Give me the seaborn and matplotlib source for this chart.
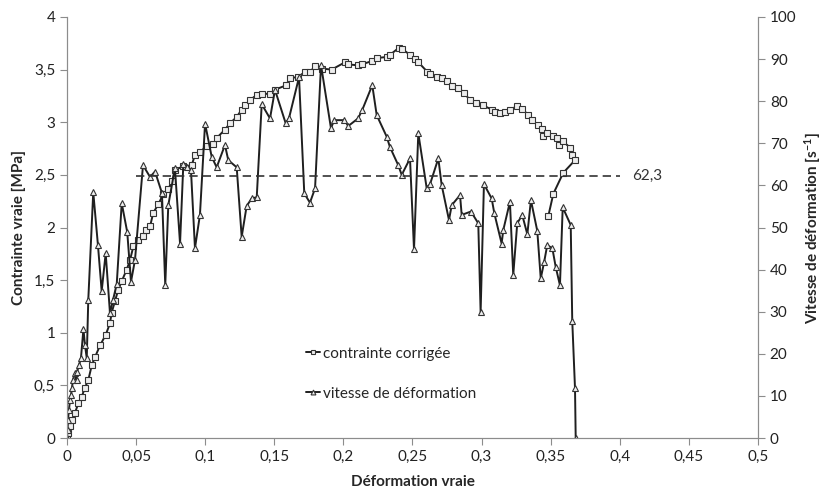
import matplotlib
matplotlib.use('Agg')
import matplotlib.pyplot as plt
import seaborn as sns
from matplotlib.ticker import FuncFormatter

# Données lues sur le graphique
# contrainte corrigée (axe gauche)
def_contrainte = [0, 0.0007, 0.0022, 0.0036, 0.0058, 0.0082, 0.0106, 0.0130, 0.0154, 0.0179,
                  0.0203, 0.0239, 0.0280, 0.0311, 0.0323, 0.0347, 0.0371, 0.0396, 0.0432, 0.0456,
                  0.0480, 0.0512, 0.0548, 0.0572, 0.0601, 0.0624, 0.0661, 0.0697, 0.0733, 0.0762,
                  0.0781, 0.0842, 0.0902, 0.0926, 0.0962, 0.1011, 0.1059, 0.1083, 0.1143, 0.1179,
                  0.1228, 0.1264, 0.1288, 0.1324, 0.1373, 0.1409, 0.1469, 0.1505, 0.1585, 0.1614,
                  0.1674, 0.1722, 0.1758, 0.1795, 0.1843, 0.1915, 0.2012, 0.2035, 0.2108, 0.2132,
                  0.2205, 0.2241, 0.2313, 0.2337, 0.2404, 0.2422, 0.2482, 0.2518, 0.2542, 0.2607,
                  0.2627, 0.2675, 0.2711, 0.2747, 0.2784, 0.2831, 0.2873, 0.2916, 0.2959, 0.3012,
                  0.3073, 0.3097, 0.3133, 0.3169, 0.3205, 0.3254, 0.3290, 0.3338, 0.3363, 0.3410,
                  0.3435, 0.3447, 0.3475, 0.3519, 0.3543, 0.3562, 0.3587, 0.3640, 0.3656, 0.3676,
                  0.3591, 0.3519, 0.3483]
contrainte = [0, 0.05, 0.11, 0.17, 0.24, 0.33, 0.39, 0.48, 0.55, 0.69,
              0.77, 0.88, 0.98, 1.09, 1.19, 1.30, 1.41, 1.49, 1.60, 1.69,
              1.82, 1.88, 1.92, 1.98, 2.01, 2.14, 2.22, 2.32, 2.37, 2.44,
              2.55, 2.58, 2.59, 2.69, 2.72, 2.77, 2.79, 2.85, 2.93, 2.99,
              3.05, 3.12, 3.16, 3.21, 3.26, 3.27, 3.27, 3.31, 3.35, 3.42,
              3.43, 3.48, 3.48, 3.53, 3.51, 3.50, 3.57, 3.55, 3.54, 3.55,
              3.58, 3.61, 3.62, 3.64, 3.71, 3.70, 3.64, 3.60, 3.57, 3.48,
              3.46, 3.43, 3.42, 3.39, 3.34, 3.33, 3.28, 3.21, 3.18, 3.16,
              3.12, 3.10, 3.09, 3.10, 3.12, 3.15, 3.13, 3.07, 3.02, 2.97,
              2.94, 2.87, 2.90, 2.87, 2.85, 2.78, 2.82, 2.76, 2.69, 2.64,
              2.52, 2.32, 2.11]

# vitesse de déformation (axe droit)
def_vitesse = [0, 0.0004, 0.0007, 0.0014, 0.0022, 0.0029, 0.0036, 0.0043, 0.0058, 0.0069,
               0.0072, 0.0087, 0.0101, 0.0119, 0.0130, 0.0143, 0.0154, 0.0190, 0.0224, 0.0251,
               0.0280, 0.0311, 0.0333, 0.0360, 0.0396, 0.0436, 0.0463, 0.0492, 0.0550, 0.0601,
               0.0637, 0.0687, 0.0711, 0.0733, 0.0781, 0.0818, 0.0842, 0.0866, 0.0897, 0.0926,
               0.0962, 0.0999, 0.1047, 0.1083, 0.1143, 0.1167, 0.1228, 0.1264, 0.1300, 0.1336,
               0.1373, 0.1409, 0.1469, 0.1505, 0.1582, 0.1606, 0.1679, 0.1717, 0.1758, 0.1795,
               0.1838, 0.1910, 0.1934, 0.2007, 0.2035, 0.2106, 0.2135, 0.2209, 0.2241, 0.2313,
               0.2337, 0.2397, 0.2422, 0.2482, 0.2511, 0.2542, 0.2603, 0.2627, 0.2687, 0.2711,
               0.2764, 0.2784, 0.2844, 0.2856, 0.2923, 0.2976, 0.2993, 0.3017, 0.3073, 0.3092,
               0.3145, 0.3157, 0.3205, 0.3229, 0.3258, 0.3294, 0.3331, 0.3357, 0.3403, 0.3428,
               0.3452, 0.3475, 0.3512, 0.3536, 0.3567, 0.3587, 0.3645, 0.3656, 0.3676, 0.3681]
vitesse = [0, 1.9, 4.3, 6.7, 9.0, 10.2, 11.9, 13.8, 15.4, 13.8,
           15.7, 17.3, 19.0, 25.9, 22.1, 19.0, 32.8, 58.4, 45.8, 34.9,
           43.9, 29.7, 32.8, 36.6, 55.8, 48.9, 37.1, 42.3, 64.8, 62.0,
           63.3, 58.2, 36.3, 55.3, 64.1, 46.2, 65.2, 64.4, 63.7, 45.1,
           53.0, 74.7, 66.8, 64.3, 69.6, 66.0, 64.3, 47.8, 55.1, 56.9,
           57.2, 79.3, 75.9, 82.7, 74.8, 75.9, 85.7, 58.1, 55.9, 59.3,
           88.6, 73.6, 75.5, 75.5, 74.1, 75.9, 77.8, 83.8, 76.7, 71.6,
           69.1, 64.8, 62.5, 66.4, 44.8, 72.4, 59.3, 60.3, 66.4, 60.1,
           51.8, 55.3, 57.7, 53.0, 53.8, 51.0, 29.9, 60.3, 56.9, 53.4,
           46.2, 49.4, 56.1, 38.7, 51.0, 53.0, 48.4, 56.5, 49.2, 37.9,
           41.7, 45.8, 45.1, 40.7, 36.3, 54.8, 50.6, 27.9, 11.8, 0]

seuil = 62.3
seuil_x = [0.05, 0.40]

sns.set_style('white')
plt.rcParams['font.family'] = ['Lato', 'DejaVu Sans']
plt.rcParams['mathtext.fontset'] = 'custom'
plt.rcParams['mathtext.rm'] = 'Lato:bold'
plt.rcParams['mathtext.it'] = 'Lato:bold'
plt.rcParams['mathtext.bf'] = 'Lato:bold'

fig = plt.figure(figsize=(8.23, 4.95), dpi=100)
ax = fig.add_axes([0.0814, 0.115, 0.8396, 0.8507])
ax2 = ax.twinx()

couleur = '#1f1f1f'
gris = '#8c8c8c'

sns.lineplot(x=def_contrainte, y=contrainte, ax=ax, sort=False, estimator=None,
             color=couleur, linewidth=1.4, marker='s', markersize=5,
             markerfacecolor='#eeeeee', markeredgecolor='#333333', markeredgewidth=0.8,
             label='contrainte corrigée', legend=False)
sns.lineplot(x=def_vitesse, y=vitesse, ax=ax2, sort=False, estimator=None,
             color=couleur, linewidth=1.4, marker='^', markersize=5,
             markerfacecolor='#eeeeee', markeredgecolor='#333333', markeredgewidth=0.8,
             label='vitesse de déformation', legend=False)
ax2.plot(seuil_x, [seuil, seuil], color='#333333', linestyle=(0, (5, 3)), linewidth=1.2)
ax2.text(0.409, seuil, '62,3', va='center', ha='left', fontsize=11, color='#333333')

virgule = FuncFormatter(lambda v, p: f'{v:g}'.replace('.', ','))

ax.set_xlim(0, 0.5)
ax.set_ylim(0, 4)
ax2.set_ylim(0, 100)
ax.set_xticks([i * 0.05 for i in range(11)])
ax.set_yticks([i * 0.5 for i in range(9)])
ax2.set_yticks(range(0, 101, 10))
ax.xaxis.set_major_formatter(virgule)
ax.yaxis.set_major_formatter(virgule)

for a in (ax, ax2):
    for s in a.spines.values():
        s.set_color(gris)
        s.set_linewidth(0.8)
    a.spines['top'].set_visible(False)
    a.tick_params(labelsize=11, colors='#222222', length=5, width=0.8, color=gris, direction='out')
ax.tick_params(axis='y', left=True)
ax.tick_params(axis='x', bottom=True)
ax2.tick_params(axis='y', right=True)

ax.set_xlabel('Déformation vraie', fontsize=11, fontweight='bold', labelpad=8)
ax.set_ylabel('Contrainte vraie [MPa]', fontsize=11, fontweight='bold', labelpad=6)
ax2.set_ylabel(r'Vitesse de déformation [s$^{-1}$]', fontsize=11,
               fontweight='bold', labelpad=4)

h1, l1 = ax.get_legend_handles_labels()
h2, l2 = ax2.get_legend_handles_labels()
ax2.legend(h1 + h2, l1 + l2, loc='upper left', bbox_to_anchor=(0.326, 0.25),
           frameon=False, fontsize=11, labelspacing=1.7, handlelength=0.9,
           handletextpad=0.2, markerscale=0.7)

fig.savefig('out.png', dpi=100)
